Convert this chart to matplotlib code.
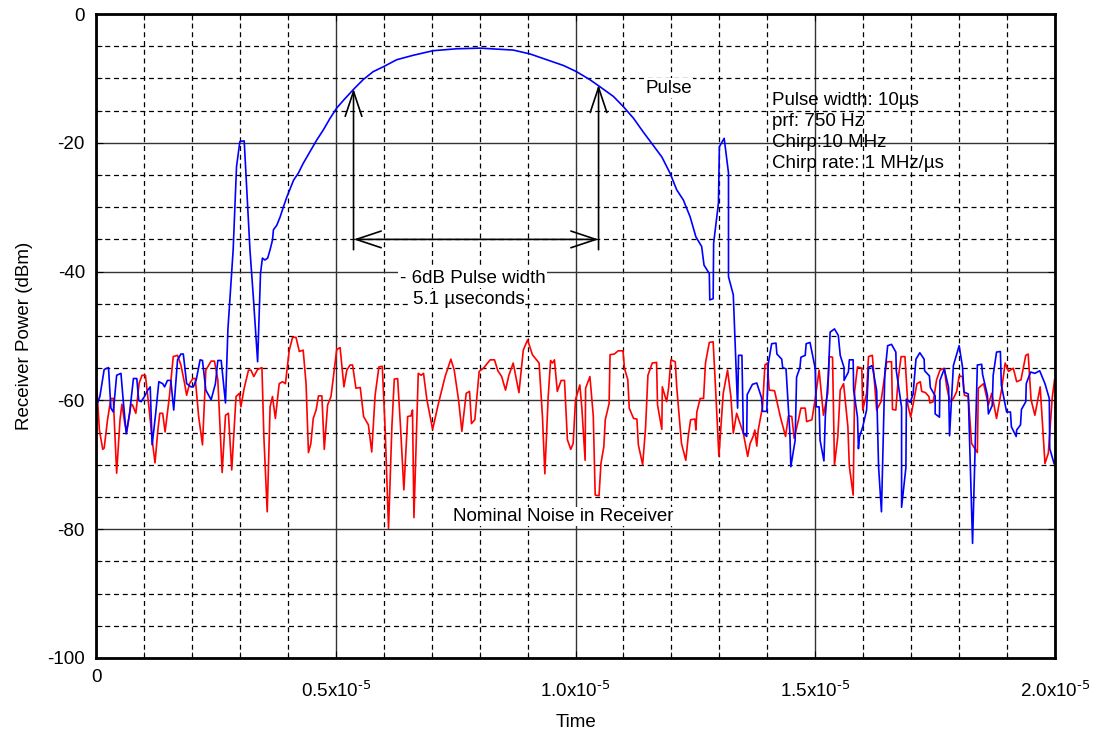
import numpy as np
import matplotlib.pyplot as plt
import matplotlib.transforms as mtransforms
from matplotlib.ticker import MultipleLocator, FixedLocator, FixedFormatter

plt.rcParams['font.family'] = ['Liberation Sans', 'DejaVu Sans']
plt.rcParams['mathtext.default'] = 'regular'
plt.rcParams['axes.unicode_minus'] = False

# time axis in microseconds, power in dBm
pulse_t = [0.00, 0.08, 0.17, 0.26, 0.31, 0.36, 0.43, 0.52, 0.56, 0.63, 0.70, 0.78, 0.85, 0.89, 0.94,
           1.01, 1.08, 1.13, 1.17, 1.24, 1.31, 1.39, 1.43, 1.49, 1.56, 1.62, 1.70, 1.77, 1.82, 1.89,
           1.98, 2.03, 2.09, 2.17, 2.22, 2.29, 2.40, 2.49, 2.54, 2.61, 2.70, 2.75, 2.86, 2.93, 3.00,
           3.09, 3.14, 3.21, 3.28, 3.37, 3.43, 3.47, 3.52, 3.58, 3.63, 3.68, 3.70, 3.77, 3.84, 3.91,
           3.98, 4.05, 4.12, 4.22, 4.32, 4.46, 4.60, 4.74, 4.88, 5.02, 5.16, 5.37, 5.57, 5.78, 5.99,
           6.27, 6.62, 7.03, 7.52, 8.01, 8.70, 9.05, 9.40, 9.75, 10.02, 10.30, 10.51, 10.79, 11.00,
           11.21, 11.41, 11.59, 11.80, 11.97, 12.11, 12.25, 12.39, 12.51, 12.63, 12.68, 12.79, 12.80,
           12.87, 12.88, 12.98, 13.00, 13.10, 13.19, 13.19, 13.29, 13.38, 13.40, 13.47, 13.50, 13.57,
           13.58, 13.69, 13.78, 13.88, 13.90, 13.99, 14.02, 14.09, 14.18, 14.20, 14.30, 14.32, 14.39,
           14.47, 14.49, 14.58, 14.61, 14.68, 14.70, 14.79, 14.81, 14.89, 15.00, 15.02, 15.08, 15.10,
           15.18, 15.21, 15.27, 15.31, 15.40, 15.48, 15.52, 15.60, 15.60, 15.69, 15.71, 15.79, 15.80,
           15.88, 15.90, 15.92, 15.99, 16.07, 16.11, 16.18, 16.20, 16.28, 16.32, 16.38, 16.45, 16.51,
           16.59, 16.68, 16.69, 16.80, 16.80, 16.89, 16.90, 16.98, 17.04, 17.10, 17.18, 17.27, 17.28,
           17.38, 17.40, 17.50, 17.50, 17.59, 17.60, 17.69, 17.78, 17.80, 17.88, 18.00, 18.07, 18.10,
           18.19, 18.28, 18.38, 18.47, 18.49, 18.59, 18.61, 18.69, 18.71, 18.78, 18.86, 18.88, 18.99,
           19.07, 19.09, 19.19, 19.20, 19.28, 19.30, 19.39, 19.40, 19.49, 19.58, 19.68, 19.79, 19.88,
           19.89, 19.98]
pulse_db = [-61.0, -59.4, -55.2, -54.9, -61.2, -61.8, -56.1, -55.8, -59.4, -65.2, -62.0, -56.6, -56.6, -60.0, -60.2,
            -59.4, -58.4, -57.9, -66.9, -62.3, -57.1, -57.4, -57.9, -56.9, -56.9, -61.5, -53.7, -52.8, -52.8, -57.4,
            -57.9, -57.9, -56.8, -53.7, -53.8, -58.4, -59.9, -57.4, -53.8, -53.8, -60.4, -49.0, -36.6, -23.7, -19.8,
            -19.7, -26.8, -36.6, -43.9, -54.0, -40.3, -37.9, -38.2, -37.9, -36.6, -35.1, -33.5, -32.8, -31.5, -29.9,
            -28.4, -27.1, -25.8, -24.7, -23.2, -21.4, -19.6, -18.0, -16.2, -14.6, -13.4, -11.7, -10.2, -8.95, -8.2,
            -7.1, -6.4, -5.7, -5.4, -5.3, -5.6, -6.2, -7.1, -8.0, -8.95, -10.2, -11.3, -12.8, -14.4,
            -16.2, -18.3, -20.1, -22.2, -24.7, -27.3, -28.9, -31.5, -34.6, -36.1, -39.0, -40.3, -44.4,
            -44.2, -35.6, -29.4, -20.6, -19.3, -24.7, -40.8, -43.6, -61.2, -53.0, -53.0, -65.1, -65.6,
            -59.1, -57.5, -57.3, -59.6, -61.7, -61.7, -54.3, -51.2, -51.1, -52.8, -53.6, -54.9, -55.1,
            -65.1, -70.3, -66.2, -56.4, -54.9, -53.3, -53.0, -51.2, -51.0, -55.1, -61.0, -61.0, -66.2,
            -69.4, -62.4, -56.4, -49.4, -48.9, -49.9, -53.0, -54.9, -56.9, -55.6, -53.7, -53.7, -58.4,
            -62.6, -67.5, -65.7, -64.1, -61.5, -54.9, -54.6, -55.1, -58.5, -70.3, -77.3, -55.9, -51.5,
            -51.3, -52.5, -55.4, -61.1, -76.6, -70.4, -59.8, -60.3, -59.0, -53.6, -52.6, -53.6, -55.4,
            -56.2, -58.0, -59.3, -62.1, -62.6, -56.9, -55.1, -58.0, -65.5, -54.6, -51.5, -54.8, -58.7,
            -59.0, -82.2, -54.5, -54.4, -56.0, -59.2, -62.1, -60.8, -56.1, -52.5, -52.4, -57.6, -61.8,
            -61.8, -64.1, -65.6, -64.6, -63.8, -61.4, -60.2, -57.4, -55.6, -55.8, -55.4, -57.4, -59.7,
            -67.5, -69.8]

noise_t = [0.00, 0.07, 0.14, 0.17, 0.24, 0.31, 0.36, 0.43, 0.50, 0.54, 0.60, 0.64, 0.73, 0.76, 0.83,
           0.90, 0.96, 1.03, 1.11, 1.17, 1.23, 1.29, 1.33, 1.39, 1.44, 1.53, 1.61, 1.70, 1.77, 1.84,
           1.89, 1.95, 2.02, 2.07, 2.14, 2.22, 2.29, 2.40, 2.47, 2.54, 2.63, 2.70, 2.76, 2.83, 2.92,
           2.99, 3.02, 3.09, 3.18, 3.23, 3.29, 3.37, 3.46, 3.50, 3.57, 3.63, 3.68, 3.74, 3.82, 3.89,
           3.95, 4.03, 4.10, 4.17, 4.24, 4.32, 4.38, 4.43, 4.48, 4.53, 4.59, 4.64, 4.71, 4.76, 4.83,
           4.90, 5.02, 5.09, 5.17, 5.23, 5.30, 5.35, 5.42, 5.51, 5.58, 5.68, 5.75, 5.82, 5.90, 5.97,
           6.03, 6.10, 6.17, 6.22, 6.29, 6.35, 6.42, 6.50, 6.57, 6.60, 6.63, 6.72, 6.78, 6.83, 6.90,
           7.02, 7.14, 7.28, 7.40, 7.47, 7.56, 7.63, 7.72, 7.79, 7.83, 7.90, 7.99, 8.08, 8.22, 8.31,
           8.38, 8.46, 8.54, 8.61, 8.70, 8.82, 8.91, 9.00, 9.10, 9.24, 9.31, 9.36, 9.43, 9.48, 9.52,
           9.56, 9.62, 9.70, 9.77, 9.83, 9.90, 9.95, 10.00, 10.09, 10.13, 10.20, 10.21, 10.30, 10.37,
           10.41, 10.49, 10.53, 10.59, 10.62, 10.70, 10.72, 10.81, 10.89, 10.99, 11.02, 11.09, 11.12,
           11.21, 11.28, 11.31, 11.40, 11.46, 11.51, 11.60, 11.69, 11.71, 11.80, 11.81, 11.87, 11.90,
           11.94, 11.99, 12.08, 12.11, 12.21, 12.30, 12.35, 12.40, 12.49, 12.51, 12.53, 12.60, 12.67,
           12.71, 12.79, 12.87, 12.92, 12.99, 13.08, 13.17, 13.24, 13.29, 13.36, 13.50, 13.59, 13.64,
           13.71, 13.74, 13.78, 13.81, 13.90, 13.95, 14.00, 14.04, 14.15, 14.27, 14.38, 14.44, 14.51,
           14.56, 14.65, 14.70, 14.79, 14.82, 14.93, 15.00, 15.08, 15.17, 15.26, 15.29, 15.36, 15.40,
           15.47, 15.52, 15.59, 15.68, 15.71, 15.79, 15.82, 15.88, 15.97, 15.99, 16.07, 16.11, 16.19,
           16.28, 16.37, 16.49, 16.59, 16.61, 16.68, 16.73, 16.79, 16.87, 16.93, 16.99, 17.07, 17.12,
           17.19, 17.22, 17.30, 17.37, 17.39, 17.46, 17.53, 17.60, 17.69, 17.74, 17.81, 17.88, 17.95,
           18.00, 18.07, 18.11, 18.19, 18.26, 18.38, 18.40, 18.51, 18.61, 18.68, 18.78, 18.89, 18.96,
           19.03, 19.13, 19.20, 19.29, 19.39, 19.44, 19.50, 19.58, 19.69, 19.79, 19.86, 19.94, 19.99]
noise_db = [-56.0, -64.6, -67.6, -67.4, -63.0, -59.7, -59.7, -71.3, -63.0, -60.6, -63.6, -64.9, -60.6, -60.7, -62.0,
            -57.3, -56.1, -56.1, -61.5, -66.1, -69.7, -64.6, -62.0, -62.0, -64.9, -59.4, -53.2, -53.0, -54.5, -57.1,
            -59.2, -57.4, -56.6, -56.6, -62.5, -66.9, -55.3, -53.9, -53.9, -56.8, -71.2, -62.3, -62.0, -70.8, -59.4,
            -58.9, -61.0, -58.1, -55.3, -55.3, -56.3, -55.2, -54.9, -65.6, -77.3, -61.0, -59.4, -62.8, -57.4, -57.1,
            -57.4, -52.2, -50.2, -50.2, -52.4, -52.2, -57.4, -68.1, -66.7, -62.8, -61.5, -59.3, -59.3, -67.6, -60.7,
            -59.4, -52.1, -51.8, -57.9, -55.3, -54.5, -54.5, -58.1, -58.0, -62.5, -63.8, -68.0, -59.2, -54.8, -54.7,
            -64.6, -79.9, -64.1, -56.7, -56.6, -64.1, -73.9, -62.5, -62.4, -61.5, -78.2, -55.8, -56.1, -55.8, -59.9,
            -64.5, -60.5, -56.3, -53.6, -55.3, -59.9, -64.8, -58.9, -58.6, -63.6, -63.0, -55.5, -55.0, -53.7, -53.7,
            -55.4, -56.3, -58.4, -56.1, -54.2, -58.8, -52.2, -50.6, -52.9, -54.2, -62.5, -71.4, -59.4, -53.8, -54.2,
            -53.7, -58.6, -56.9, -56.9, -66.1, -67.6, -66.7, -59.9, -57.6, -61.0, -69.3, -58.1, -56.3, -62.4,
            -74.7, -74.8, -69.8, -67.2, -63.0, -60.5, -52.9, -52.8, -52.3, -52.3, -55.0, -56.8, -61.2,
            -62.8, -62.9, -66.9, -70.0, -64.3, -56.1, -54.2, -54.1, -60.7, -64.5, -57.9, -59.4, -60.2,
            -58.1, -53.7, -54.0, -57.9, -66.7, -69.3, -65.6, -63.0, -62.9, -64.6, -61.8, -59.7, -59.7,
            -54.2, -51.0, -50.9, -58.1, -68.7, -58.9, -55.3, -59.4, -65.1, -62.0, -65.1, -68.7, -66.7,
            -65.5, -64.6, -67.1, -64.6, -61.0, -54.5, -54.2, -58.4, -58.5, -62.5, -65.6, -62.4, -62.5,
            -65.9, -63.0, -61.2, -61.2, -63.3, -63.0, -59.7, -55.3, -62.3, -58.9, -53.2, -53.3, -70.0,
            -65.6, -58.4, -57.4, -64.1, -70.2, -74.7, -58.6, -54.8, -55.0, -61.5, -58.9, -53.2, -53.0,
            -61.5, -60.2, -54.0, -54.0, -61.4, -61.5, -56.6, -53.2, -53.2, -60.7, -62.6, -59.4, -57.4,
            -57.1, -58.6, -58.8, -59.4, -60.4, -60.2, -56.8, -55.3, -55.0, -57.9, -60.2, -59.7, -58.6,
            -56.2, -56.3, -59.2, -59.4, -66.7, -68.1, -58.1, -57.4, -60.7, -58.9, -62.8, -58.1, -54.2,
            -55.5, -55.0, -57.1, -56.8, -53.0, -52.8, -59.9, -62.3, -57.9, -69.8, -68.2, -59.7, -56.8]

x_ticks = [0, 0.5e-5, 1.0e-5, 1.5e-5, 2.0e-5]
x_labels = ['0', r'0.5x10$^{\text{-5}}$', r'1.0x10$^{\text{-5}}$', r'1.5x10$^{\text{-5}}$', r'2.0x10$^{\text{-5}}$']
y_ticks = [-100, -80, -60, -40, -20, 0]

info_lines = ['Pulse width: 10\u00b5s', 'prf: 750 Hz', 'Chirp:10 MHz', 'Chirp rate: 1 MHz/\u00b5s']

# -6 dB points of the pulse (microseconds) and the width between them
left_edge, right_edge = 5.37, 10.48
left_top, right_top = -11.6, -11.0

us = 1e-6
fs = 13.5
white = dict(facecolor='white', edgecolor='none', pad=1)

fig = plt.figure(figsize=(10.95, 7.37), dpi=100)
ax = fig.add_axes([0.0877, 0.1072, 0.8758, 0.8738])

ax.plot(np.array(noise_t) * us, noise_db, color='#ff0000', lw=1.2)
ax.plot(np.array(pulse_t) * us, pulse_db, color='#0000ff', lw=1.2)

ax.set_xlim(0, 2e-5)
ax.set_ylim(-100, 0)
ax.xaxis.set_major_locator(FixedLocator(x_ticks))
ax.xaxis.set_major_formatter(FixedFormatter(x_labels))
ax.xaxis.set_minor_locator(MultipleLocator(1e-6))
ax.yaxis.set_major_locator(FixedLocator(y_ticks))
ax.yaxis.set_minor_locator(MultipleLocator(5))

ax.grid(which='major', color='#333333', lw=1.0, ls='-')
ax.grid(which='minor', color='black', lw=0.9, ls=(0, (4, 3)))
ax.set_axisbelow(True)
ax.tick_params(which='both', direction='in', top=True, right=True, labelsize=fs)
ax.tick_params(which='major', length=5, pad=8)
ax.tick_params(which='minor', length=4)
for s in ax.spines.values():
    s.set_linewidth(2)

# labels with an exponent sit a little lower than the plain "0"
drop = mtransforms.ScaledTranslation(0, -8 / 72, fig.dpi_scale_trans)
for lab in ax.get_xticklabels()[1:]:
    lab.set_transform(lab.get_transform() + drop)

ax.set_xlabel('Time', fontsize=fs, labelpad=9)
ax.set_ylabel('Receiver Power (dBm)', fontsize=fs, labelpad=10)

# -6 dB markers
head = dict(lw=1.2, color='black', shrinkA=0, shrinkB=0, mutation_scale=20)
ax.annotate('', xy=(left_edge * us, left_top), xytext=(left_edge * us, -36.6),
            arrowprops=dict(arrowstyle='->, head_length=0.9, head_width=0.3', **head))
ax.annotate('', xy=(right_edge * us, right_top), xytext=(right_edge * us, -36.6),
            arrowprops=dict(arrowstyle='->, head_length=0.9, head_width=0.3', **head))
ax.annotate('', xy=(left_edge * us, -35), xytext=(right_edge * us, -35),
            arrowprops=dict(arrowstyle='<->, head_length=0.9, head_width=0.3', **head))

ax.text(6.33 * us, -41.0, '- 6dB Pulse width', fontsize=fs, va='center', bbox=white)
ax.text(6.60 * us, -44.3, '5.1 \u00b5seconds', fontsize=fs, va='center', bbox=white)
ax.text(11.45 * us, -11.5, 'Pulse', fontsize=fs, va='center', bbox=white)
ax.text(7.45 * us, -78.0, 'Nominal Noise in Receiver', fontsize=fs, va='center', bbox=white)

for i, line in enumerate(info_lines):
    ax.text(14.1 * us, -13.4 - 3.25 * i, line, fontsize=fs, va='center')

fig.savefig('out.png', dpi=100)
